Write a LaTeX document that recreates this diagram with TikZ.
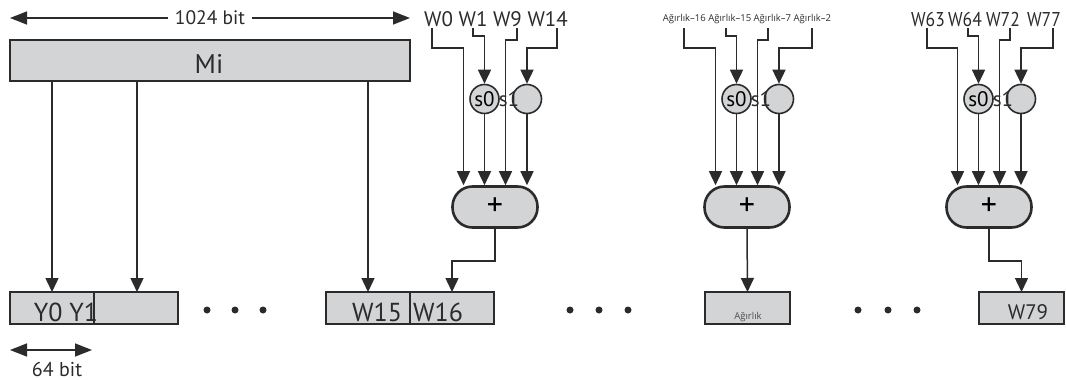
\documentclass[tikz,border=0pt]{standalone}
\usepackage{fontspec}
\setmainfont{PT Sans}
\newfontfamily\smallfont{Open Sans}
\newfontfamily\condfont[FakeStretch=0.88]{PT Sans}
\usetikzlibrary{arrows.meta}
\definecolor{boxgray}{HTML}{D3D4D6}
\definecolor{ink}{HTML}{2B2B2B}
\begin{document}
\begin{tikzpicture}[x=1pt,y=-1pt,
  line/.style={draw=ink, line width=1.5pt},
  arr/.style={line, -{Triangle[length=14pt,width=13pt]}},
  dimarr/.style={line, {Triangle[length=17pt,width=13pt]}-{Triangle[length=17pt,width=13pt]}},
  cell/.style={draw=ink, line width=1.3pt, fill=boxgray, minimum height=32pt, inner sep=0pt, outer sep=0pt},
  plusbox/.style={draw=ink, line width=2.6pt, fill=boxgray, rounded corners=20pt, minimum width=85pt, minimum height=41pt, inner sep=0pt, font=\fontsize{32}{32}\selectfont},
  sig/.style={circle, draw=ink, line width=1.6pt, fill=boxgray, minimum size=29pt, inner sep=0pt, font=\fontsize{21}{21}\selectfont},
  lbl/.style={text=ink, inner sep=0pt, font=\fontsize{21}{21}\selectfont},
  wlbl/.style={text=ink, inner sep=0pt, anchor=base, font=\condfont\fontsize{20}{20}\selectfont},
  big/.style={text=ink, inner sep=0pt, font=\fontsize{26}{26}\selectfont},
  tiny/.style={text=ink, inner sep=0pt, font=\smallfont\fontsize{9.5}{9.5}\selectfont},
  dot/.style={circle, fill=ink, minimum size=7pt, inner sep=0pt}
]
\useasboundingbox (0,0) rectangle (1066,380);

% 1024 bit dimension
\coordinate (dl) at (10,18);
\coordinate (dr) at (410,18);
\draw[dimarr] (dl) -- node[fill=white, inner xsep=7pt, inner ysep=1pt, text=ink, font=\fontsize{19.5}{19.5}\selectfont] (d1024) {1024 bit} (dr);

% Mi block
\node[cell, minimum width=400pt, minimum height=41pt, anchor=north west] (mi) at (10,40) {};
\node[text=ink, inner sep=0pt, font=\fontsize{27}{27}\selectfont] (mit) at (209,64) {Mi};

% bottom cells
\node[cell, minimum width=84pt, anchor=north west] (b1a) at (10,292) {};
\node[cell, minimum width=84pt, anchor=north west] (b1b) at (94,292) {};
\node[big] (y01) at (66,312) {Y0 Y1};
\node[cell, minimum width=84pt, anchor=north west] (b2a) at (326,292) {};
\node[cell, minimum width=84pt, anchor=north west] (b2b) at (410,292) {};
\node[big] (w15) at (377,312) {W15};
\node[big] (w16) at (438,312) {W16};
\node[cell, minimum width=85pt, anchor=north west] (b3) at (705,292) {};
\node[tiny, text=ink!85] (agb) at (748,317) {Ağırlık};
\node[cell, minimum width=85pt, anchor=north west] (b4) at (979,292) {};
\node[lbl] (w79) at (1028,312) {W79};

% dots
\foreach \x [count=\i] in {207,235,263,570,599,628,858,888,917}
  \node[dot] (dot\i) at (\x,310) {};

% 64 bit dimension
\coordinate (sl) at (10,350);
\coordinate (sr) at (92,350);
\draw[dimarr] (sl) -- (sr);
\node[lbl, font=\fontsize{20}{20}\selectfont, anchor=base] (d64) at (57,376) {64 bit};

% Mi to cells
\draw[arr] (52,0 |- mi.south) -- (52,0 |- b1a.north);
\draw[arr] (137,0 |- mi.south) -- (137,0 |- b1b.north);
\draw[arr] (368,0 |- mi.south) -- (368,0 |- b2a.north);

% labels above the adders
\node[lbl, anchor=base] (lab1) at (496,26) {W0 W1 W9 W14};
\node[tiny, anchor=base] (lab2) at (747,21) {Ağırlık–16 Ağırlık–15 Ağırlık–7 Ağırlık–2};
\node[wlbl] (w63) at (928,26) {W63};
\node[wlbl] (w64) at (965,26) {W64};
\node[wlbl] (w72) at (1003,26) {W72};
\node[wlbl] (w77) at (1044,26) {W77};

% adder groups
\foreach \g/\L/\a/\b/\c/\d in {1/452/432/473/517/557, 2/704/684/726/768/812, 3/946/927/968/1010/1053}{
  \node[plusbox] (p\g) at (\L+43,207) {+};
  \node[sig] (sa\g) at (\L+32.5,99) {s0};
  \node[sig] (sb\g) at (\L+75,99) {};
  \node[lbl] (sl\g) at (\L+57,99) {s1};
  \coordinate (ta\g) at (\a,28);
  \coordinate (tb\g) at (\b,28);
  \coordinate (tc\g) at (\c,28);
  \coordinate (td\g) at (\d,28);
  \draw[arr] (ta\g) -- ++(0,20) -| ([xshift=-31.5pt]p\g.north);
  \draw[arr] (tb\g) -- ++(0,8) -| (sa\g.north);
  \draw[arr] (tc\g) -- ++(0,12) -| ([xshift=10.5pt]p\g.north);
  \draw[arr] (td\g) -- ++(0,20) -| (sb\g.north);
  \draw[arr] (sa\g.south) -- (sa\g.south |- p\g.north);
  \draw[arr] (sb\g.south) -- (sb\g.south |- p\g.north);
}

% adder outputs
\draw[arr] (p1.south) -- ++(0,32) -| (b2b.north);
\draw[arr] (p2.south) -- (b3.north);
\draw[arr] (p3.south) -- ++(0,32) -| (b4.north);
\end{tikzpicture}
\end{document}
